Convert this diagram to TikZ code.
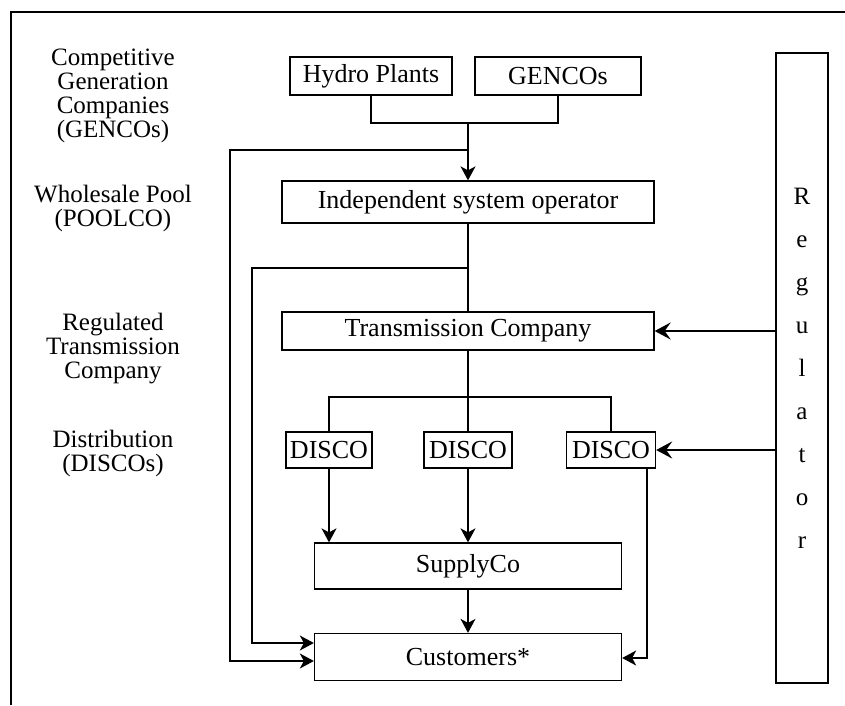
\documentclass[tikz,border=0pt]{standalone}
\usepackage{fontspec}
\setmainfont{Liberation Serif}
\usetikzlibrary{arrows.meta}

\tikzset{
  box/.style={rectangle, draw, line width=1.3pt, inner sep=0pt, font=\fontsize{26}{28}\selectfont},
  lbl/.style={align=center, font=\fontsize{25}{24}\selectfont},
  link/.style={line width=1.3pt},
  feed/.style={link, -{Stealth[length=14pt,width=15pt,inset=4pt]}},
  rule/.style={line width=2.8pt, -{Stealth[length=16pt,width=17pt,inset=6pt]}}
}

\begin{document}
\begin{tikzpicture}[x=1pt,y=-1pt]
\useasboundingbox (0,0) rectangle (845,705);
\draw[line width=1.6pt] (11,705) |- (845,12);

% left column
\node[lbl] (lgen) at (113,96) {Competitive\\Generation\\Companies\\(GENCOs)};
\node[lbl] (lpool) at (113,208) {Wholesale Pool\\(POOLCO)};
\node[lbl] (ltrans) at (113,349) {Regulated\\Transmission\\Company};
\node[lbl] (ldist) at (113,453) {Distribution\\(DISCOs)};

% boxes
\node[box, minimum width=162, minimum height=38] (hydro) at (371,76) {Hydro Plants};
\node[box, minimum width=166, minimum height=38] (gencos) at (558,76) {GENCOs};
\node[box, minimum width=372, minimum height=42] (iso) at (468,202) {Independent system operator};
\node[box, minimum width=372, minimum height=38] (tc) at (468,331) {Transmission Company};
\node[box, minimum width=86, minimum height=36] (d1) at (329,450) {DISCO};
\node[box, minimum width=88, minimum height=36] (d2) at (468,450) {DISCO};
\node[box, minimum width=89, minimum height=36] (d3) at (611,450) {DISCO};
\node[box, minimum width=307, minimum height=46] (sup) at (468,566) {SupplyCo};
\node[box, minimum width=307, minimum height=47] (cust) at (468,657) {Customers*};
\node[box, minimum width=52, minimum height=630, align=center,
      font=\fontsize{25}{43}\selectfont] (reg) at (802,368)
      {R\\e\\g\\u\\l\\a\\t\\o\\r};

% junctions
\coordinate (jgen) at (468,123);
\coordinate (ta) at (468,150);
\coordinate (tb) at (468,268);
\coordinate (bus) at (468,397);

\draw[link] (hydro.south) |- (jgen) -| (gencos.south);
\draw[feed] (jgen) -- (iso);
\draw[feed] (ta) -- (230,150) |- ([yshift=-4pt]cust.west);
\draw[link] (iso) -- (tc);
\draw[feed] (tb) -- (252,268) |- ([yshift=14pt]cust.west);

\draw[link] (tc) -- (bus);
\draw[link] (d1.north) |- (bus) -| (d3.north);
\draw[link] (bus) -- (d2);
\draw[feed] (d1) -- (d1 |- sup.north);
\draw[feed] (d2) -- (sup);
\draw[feed] ([xshift=36pt]d3.south) |- ([yshift=-1pt]cust.east);
\draw[feed] (sup) -- (cust);

\draw[rule] (reg.west |- tc.east) -- (tc.east);
\draw[rule] (reg.west |- d3.east) -- (d3.east);
\end{tikzpicture}
\end{document}
